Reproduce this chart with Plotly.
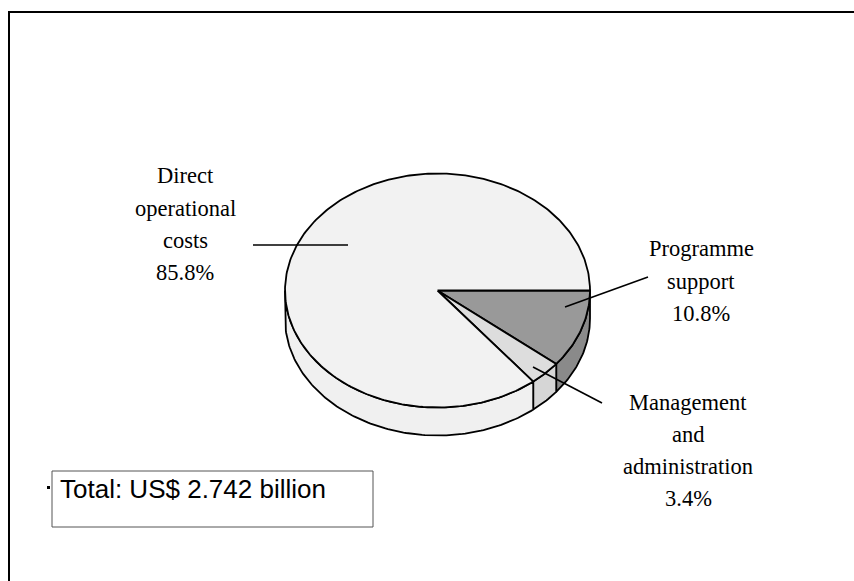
import numpy as np
import plotly.graph_objects as go

# ---- data (clockwise from 3 o'clock) ----
categories = ["Programme support", "Management and administration", "Direct operational costs"]
values = [10.8, 3.4, 85.8]
top_colors = ["#999999", "#dddddd", "#f2f2f2"]
side_colors = ["#8a8a8a", "#d6d6d6", "#f0f0f0"]
label_lines = [
    ["Programme", "support", "10.8%"],
    ["Management", "and", "administration", "3.4%"],
    ["Direct", "operational", "costs", "85.8%"],
]
total_text = "Total: US$ 2.742 billion"

# ---- geometry of the tilted pie (pixel space) ----
CX, CY, RX, RY, DEPTH = 437.5, 290.5, 152.5, 117.0, 28.0
W, H = 854, 581

fig = go.Figure()

fracs = np.array(values) / np.sum(values)
ends = np.cumsum(fracs) * 2 * np.pi
starts = ends - fracs * 2 * np.pi

def arc(a0, a1, n=None):
    if n is None:
        n = max(4, int(abs(a1 - a0) / (2 * np.pi) * 360))
    t = np.linspace(a0, a1, n)
    return CX + RX * np.cos(t), CY + RY * np.sin(t)

line_style = dict(color="black", width=1.8)

# side walls (only front half, angles 0..pi in screen space)
for i in range(len(values)):
    a0, a1 = max(starts[i], 0.0), min(ends[i], np.pi)
    if a1 <= a0:
        continue
    xs, ys = arc(a0, a1)
    px = np.concatenate([xs, xs[::-1], xs[:1]])
    py = np.concatenate([ys, ys[::-1] + DEPTH, ys[:1]])
    fig.add_trace(go.Scatter(x=px, y=py, mode="lines", fill="toself",
                             fillcolor=side_colors[i], line=line_style,
                             hoverinfo="skip", showlegend=False))

# top faces
for i in range(len(values)):
    xs, ys = arc(starts[i], ends[i])
    px = np.concatenate([[CX], xs, [CX]])
    py = np.concatenate([[CY], ys, [CY]])
    fig.add_trace(go.Scatter(x=px, y=py, mode="lines", fill="toself",
                             fillcolor=top_colors[i], line=line_style,
                             name=categories[i], hoverinfo="name",
                             showlegend=False))

# ---- labels ----
label_pos = [
    (701, [248, 281, 313]),
    (688, [402, 434, 466, 498]),
    (185, [175, 208, 240, 272]),
]
annotations = []
for (lx, ys), lines in zip(label_pos, label_lines):
    for yy, txt in zip(ys, lines):
        annotations.append(dict(x=lx, y=yy, xref="x", yref="y", text=txt,
                                showarrow=False, xanchor="center", yanchor="middle",
                                font=dict(family="Liberation Serif", size=22.5, color="black")))
annotations.append(dict(x=58, y=489, xref="x", yref="y", text=total_text,
                        showarrow=False, xanchor="left", yanchor="middle",
                        font=dict(family="Liberation Sans", size=26, color="black")))

# ---- leader lines & decorations ----
shapes = [
    dict(type="line", x0=253, y0=245, x1=348, y1=245, line=dict(color="black", width=1.6)),
    dict(type="line", x0=565, y0=307, x1=648, y1=277, line=dict(color="black", width=1.6)),
    dict(type="line", x0=533, y0=367, x1=602, y1=403, line=dict(color="black", width=1.6)),
    dict(type="rect", x0=52, y0=471, x1=373, y1=527, line=dict(color="#555555", width=1)),
    dict(type="rect", x0=47, y0=486, x1=50, y1=489, fillcolor="black", line=dict(width=0)),
    dict(type="rect", x0=9, y0=12, x1=W + 20, y1=H + 20, line=dict(color="black", width=2)),
]

fig.update_layout(
    width=W, height=H, autosize=False,
    margin=dict(l=0, r=0, t=0, b=0),
    paper_bgcolor="white", plot_bgcolor="white",
    xaxis=dict(range=[0, W], visible=False, fixedrange=True),
    yaxis=dict(range=[H, 0], visible=False, fixedrange=True),
    annotations=annotations, shapes=shapes,
)

fig.write_html("out.html")
